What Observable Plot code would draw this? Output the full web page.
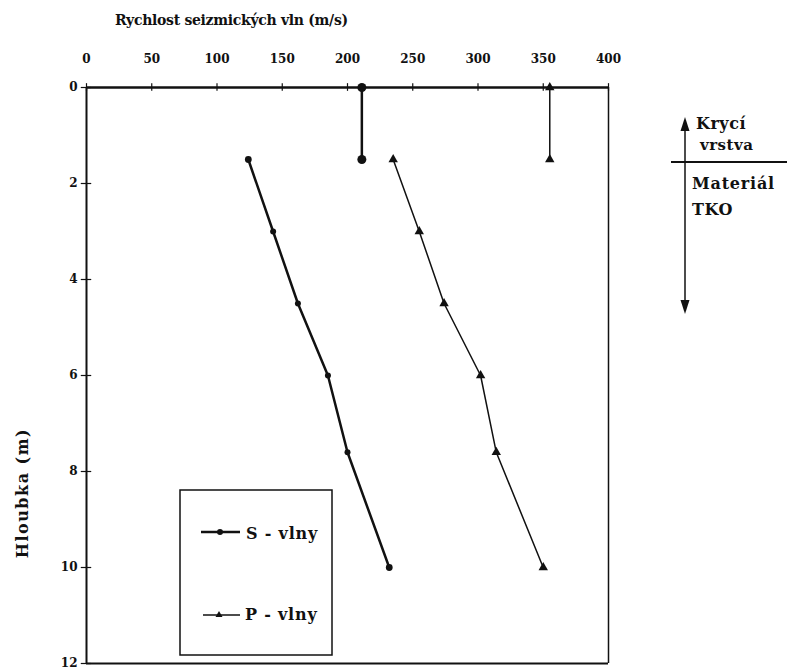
<!DOCTYPE html>
<html>
<head>
<meta charset="utf-8">
<script src="https://cdn.jsdelivr.net/npm/d3@7"></script>
<script src="https://cdn.jsdelivr.net/npm/@observablehq/plot@0.6"></script>
<style>
  body { margin: 0; background: #fff; }
  #wrap { position: relative; width: 787px; height: 671px; font-family: "DejaVu Serif", serif; font-weight: bold; color: #111; }
  .t { position: absolute; white-space: nowrap; }
</style>
</head>
<body>
<div id="wrap">
  <div id="chart"></div>
  <div class="t" style="left:115px; top:12px; font-size:14px; letter-spacing:-0.3px;">Rychlost seizmických vln (m/s)</div>
  <div class="t" style="left:22px; top:493px; font-size:16px; letter-spacing:1.5px; transform: translate(-50%,-50%) rotate(-90deg);">Hloubka (m)</div>
  <div class="t" style="left:696px; top:114px; font-size:16px; letter-spacing:0.5px;">Krycí</div>
  <div class="t" style="left:700px; top:136px; font-size:15px; letter-spacing:0.5px;">vrstva</div>
  <div class="t" style="left:692px; top:174px; font-size:16px; letter-spacing:0.8px;">Materiál</div>
  <div class="t" style="left:692px; top:200px; font-size:16px; letter-spacing:0.5px;">TKO</div>
  <svg style="position:absolute; left:0; top:0;" width="787" height="671">
    <line x1="685" y1="128" x2="685" y2="304" stroke="#111" stroke-width="1.5"/>
    <polygon points="685,117 680.5,131 689.5,131" fill="#111"/>
    <polygon points="685,314 680.5,300 689.5,300" fill="#111"/>
    <line x1="671" y1="162" x2="787" y2="162" stroke="#111" stroke-width="2"/>
    <rect x="180" y="490" width="152" height="165" fill="#fff" stroke="#111" stroke-width="1.5"/>
    <line x1="201" y1="532" x2="240" y2="532" stroke="#111" stroke-width="2.5"/>
    <circle cx="220" cy="532" r="3" fill="#111"/>
    <line x1="203" y1="615" x2="240" y2="615" stroke="#111" stroke-width="1.5"/>
    <polygon points="219,611 215.5,617 222.5,617" fill="#111"/>
  </svg>
  <div class="t" style="left:246px; top:524px; font-size:16px; letter-spacing:0.8px;">S - vlny</div>
  <div class="t" style="left:245px; top:605px; font-size:16px; letter-spacing:0.8px;">P - vlny</div>
</div>
<script>
// Velocity (m/s) vs depth (m)
const sTopVel = [211, 211];
const sTopDepth = [0, 1.5];
const pTopVel = [355, 355];
const pTopDepth = [0, 1.5];
const sVel = [124, 143, 162, 185, 200, 232];
const sDepth = [1.5, 3, 4.5, 6, 7.6, 10];
const pVel = [235, 255, 274, 302, 314, 350];
const pDepth = [1.5, 3, 4.5, 6, 7.6, 10];
const xTicks = [0, 50, 100, 150, 200, 250, 300, 350, 400];
const yTicks = [0, 2, 4, 6, 8, 10, 12];

const zip = (xs, ys) => xs.map((v, i) => ({v, d: ys[i]}));
const sTop = zip(sTopVel, sTopDepth);
const pTop = zip(pTopVel, pTopDepth);
const sLow = zip(sVel, sDepth);
const pLow = zip(pVel, pDepth);

const chart = Plot.plot({
  width: 787,
  height: 671,
  marginLeft: 86,
  marginRight: 179,
  marginTop: 87,
  marginBottom: 8,
  style: {fontFamily: "DejaVu Serif, serif", fontWeight: "bold", fontSize: "12px", color: "#111", background: "transparent"},
  x: {domain: [0, 400]},
  y: {domain: [0, 12], reverse: true},
  marks: [
    Plot.axisX({anchor: "top", ticks: xTicks, tickSize: 0, tickPadding: 25, label: null, tickFormat: d => d}),
    Plot.axisY({anchor: "left", ticks: yTicks, tickSize: 0, tickPadding: 9, label: null, tickFormat: d => d}),
    Plot.ruleX(xTicks, {x: d => d, y1: -0.08, y2: 0.08, stroke: "#111", strokeWidth: 1.2}),
    Plot.ruleY(yTicks, {y: d => d, x1: -4, x2: 4, stroke: "#111", strokeWidth: 1.2}),
    Plot.ruleX([0], {stroke: "#111", strokeWidth: 2}),
    Plot.ruleX([400], {stroke: "#111", strokeWidth: 1.5}),
    Plot.ruleY([12], {stroke: "#111", strokeWidth: 2}),
    Plot.ruleY([0], {stroke: "#111", strokeWidth: 2.5}),
    Plot.line(sTop, {x: "v", y: "d", stroke: "#111", strokeWidth: 2.5}),
    Plot.line(pTop, {x: "v", y: "d", stroke: "#111", strokeWidth: 1.5}),
    Plot.line(sLow, {x: "v", y: "d", stroke: "#111", strokeWidth: 2.5}),
    Plot.line(pLow, {x: "v", y: "d", stroke: "#111", strokeWidth: 1.5}),
    Plot.dot(sTop, {x: "v", y: "d", r: 4.5, fill: "#111"}),
    Plot.dot(sLow, {x: "v", y: "d", r: d => d.d === 1.5 || d.d === 10 ? 4.5 : 3.5, fill: "#111"}),
    Plot.dot(pTop, {x: "v", y: "d", symbol: "triangle", r: 3.5, fill: "#111"}),
    Plot.dot(pLow, {x: "v", y: "d", symbol: "triangle", r: 3.5, fill: "#111"})
  ]
});
document.getElementById("chart").appendChild(chart);
</script>
</body>
</html>
